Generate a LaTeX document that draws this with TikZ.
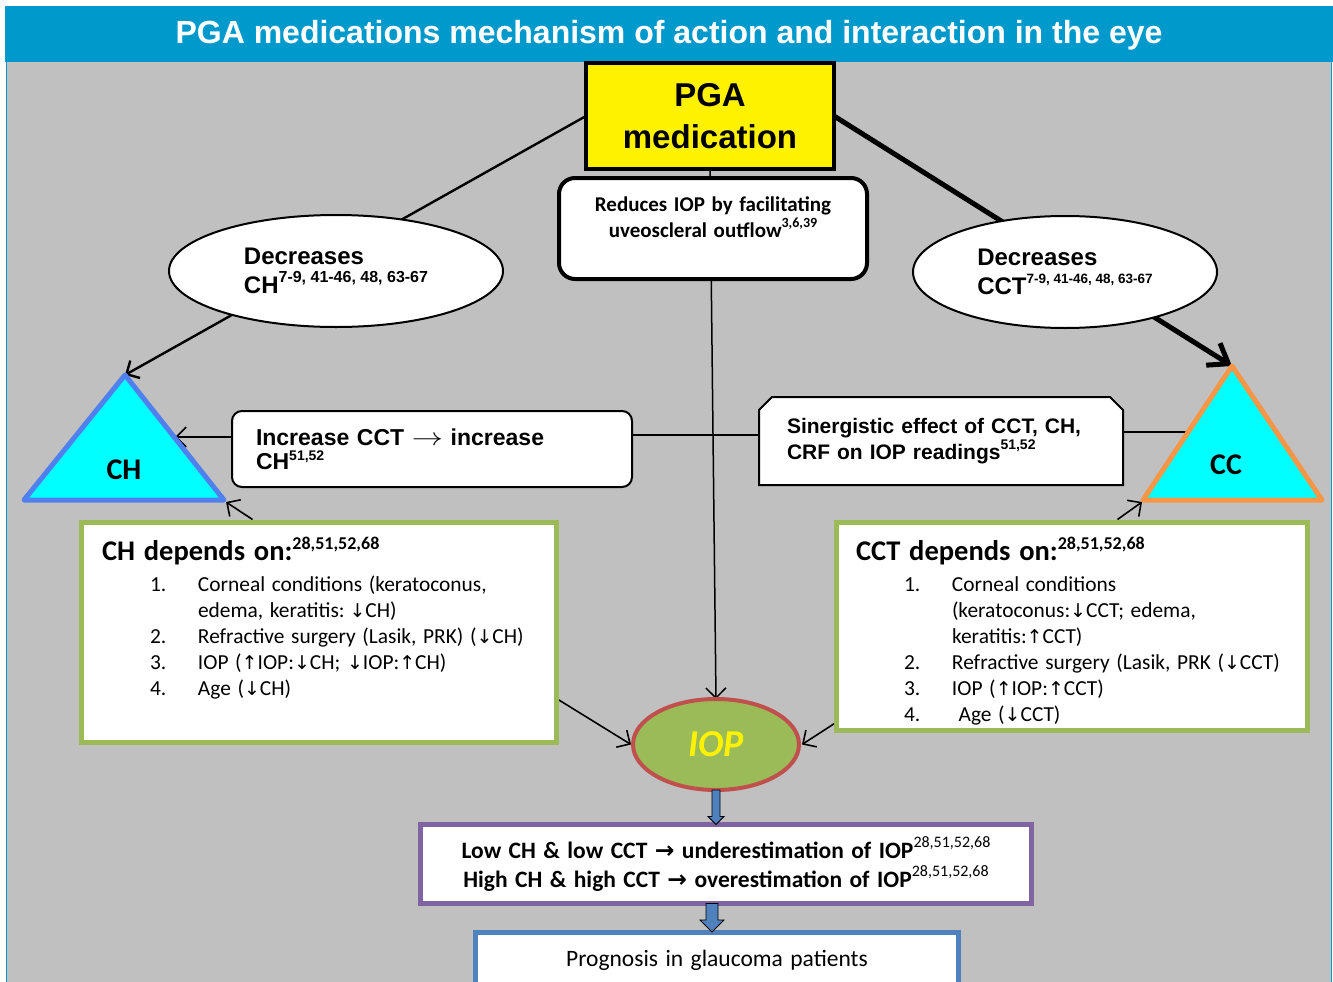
\documentclass[tikz,border=0pt]{standalone}
\usepackage{fontspec}
\setmainfont{Liberation Sans}
\newfontfamily\calfont[WordSpace=1.4]{Carlito}
\newfontfamily\arialf{Liberation Sans}
\newfontfamily\dejaf{DejaVu Sans}
\usetikzlibrary{arrows.meta,shapes.geometric,calc}
\pgfdeclarelayer{bgfill}\pgfdeclarelayer{conn}\pgfdeclarelayer{shp}
\pgfsetlayers{bgfill,conn,shp,main}
\definecolor{ttlblue}{HTML}{0099CC}
\definecolor{bggray}{HTML}{C0C0C0}
\definecolor{chblue}{HTML}{4F80EE}
\definecolor{ccorange}{HTML}{F79646}
\definecolor{grn}{HTML}{9BBB59}
\definecolor{iopred}{HTML}{C0504D}
\definecolor{purp}{HTML}{8064A2}
\definecolor{blu}{HTML}{4F81BD}
\definecolor{cyanf}{HTML}{00FFFF}
\newcommand\rsup[3]{\raisebox{#1}{\fontsize{#2}{#2}\selectfont #3}}
\newcommand\dnarr{{\dejaf\fontsize{19}{19}\selectfont ↓}}
\newcommand\uparr{{\dejaf\fontsize{19}{19}\selectfont ↑}}
\newcommand\thinarr{\scalebox{1.25}[1]{\fontsize{24}{23}\selectfont$\rightarrow$}}
\newcommand\wsp{\spaceskip=0.31em plus 0.1em minus 0.05em\relax}
\newcommand\litem[2]{\par\hangindent=96pt\hangafter=1\hspace*{48pt}\makebox[48pt][l]{#1}#2}
\begin{document}
\begin{tikzpicture}[x=1pt,y=-1pt,
  every node/.style={inner sep=0pt,outer sep=0pt},
  conn/.style={draw=black,line width=1.6pt},
  barb/.style={-{Straight Barb[length=10pt,width=20pt]}},
  bigbarb/.style={-{Straight Barb[length=18pt,width=26pt]}},
  depbox/.style={draw=grn,line width=5pt,fill=white,anchor=north west},
  deptxt/.style={anchor=north west,text width=440pt,align=left},
  blockarr/.style={draw=black,line width=0.8pt,fill=blu}]
\useasboundingbox (0,0) rectangle (1333,982);
\clip (0,0) rectangle (1333,982);
\begin{pgfonlayer}{bgfill}
\fill[white] (0,0) rectangle (1333,982);
\fill[ttlblue] (5,6) rectangle (1333,62);
\fill[bggray] (7,62) rectangle (1331,982);
\draw[ttlblue,line width=1pt] (6.5,62) -- (6.5,982);
\draw[ttlblue,line width=1pt] (1331,62) -- (1331,982);
\end{pgfonlayer}

% title
\node[text=white,font=\bfseries\fontsize{32}{36}\selectfont] (title) at (669,35) {PGA medications mechanism of action and interaction in the eye};

% PGA medication
\node[draw,line width=4pt,fill=yellow,minimum width=248pt,minimum height=106pt,align=center,font=\bfseries\fontsize{33}{42}\selectfont] (pga) at (710,116) {PGA\\medication};

% reduces box
\node[draw,line width=4pt,rounded corners=16pt,fill=white,minimum width=308pt,minimum height=101pt,align=center,text depth=22pt,font=\calfont\bfseries\fontsize{21}{26}\selectfont] (red) at (713,228.5) {Reduces IOP by facilitating\\uveoscleral outflow\rsup{0.5em}{14}{3,6,39}};

% ellipses
\node[ellipse,draw,line width=2pt,fill=white,minimum width=334pt,minimum height=112pt,align=left,font=\bfseries\fontsize{24}{29}\selectfont] (dch) at (336,271) {Decreases\\CH\rsup{0.45em}{16}{7-9, 41-46, 48, 63-67}};
\node[ellipse,draw,line width=2pt,fill=white,minimum width=304pt,minimum height=112pt,align=left,font=\bfseries\fontsize{24}{29}\selectfont] (dcc) at (1065,272) {Decreases\\CCT\rsup{0.45em}{13.5}{7-9, 41-46, 48, 63-67}};

% triangles
\coordinate (chTop) at (125,375);
\coordinate (chBL) at (24,500);
\coordinate (chBR) at (224,500);
\coordinate (chR) at (175,437);
\coordinate (ccTop) at (1232,366);
\coordinate (ccBL) at (1143,500);
\coordinate (ccBR) at (1322,500);
\coordinate (ccL) at (1187,432);
\draw[draw=chblue,fill=cyanf,line width=5pt,line join=round] (chTop) -- (chBR) -- (chBL) -- cycle;
\draw[draw=ccorange,fill=cyanf,line width=5pt,line join=round] (ccTop) -- (ccBR) -- (ccBL) -- cycle;
\node[font=\calfont\bfseries\fontsize{30}{30}\selectfont] (chlbl) at (124,470) {CH};
\node[font=\calfont\bfseries\fontsize{30}{30}\selectfont] (cclbl) at (1226,465) {CC};

% increase box
\node[draw,line width=2pt,rounded corners=10pt,fill=white,minimum width=400pt,minimum height=76pt,text width=352pt,align=left,font=\bfseries\fontsize{23}{24}\selectfont] (inc) at (432,449) {Increase CCT \thinarr{} increase\\CH\rsup{0.4em}{14}{51,52}};

% sinergistic box
\node[minimum width=364pt,minimum height=88pt,text width=308pt,align=left,font=\bfseries\fontsize{21}{26}\selectfont] (sin) at (941,441) {\makebox[308pt][s]{Sinergistic effect of CCT, CH,}\\CRF on IOP readings\rsup{0.45em}{14}{51,52}};
\begin{pgfonlayer}{shp}
\draw[line width=2pt,fill=white] (sin.south west) -- ($(sin.north west)+(0,13)$) -- ($(sin.north west)+(13,0)$) -- ($(sin.north east)+(-13,0)$) -- ($(sin.north east)+(0,13)$) -- (sin.south east) -- cycle;
\end{pgfonlayer}

% depends boxes
\node[depbox,minimum width=475pt,minimum height=220pt] (chdep) at (81.5,522.5) {};
\node[deptxt] (chdeptxt) at (102,537) {\parindent=0pt\parskip=0pt
{\calfont\bfseries\fontsize{28.5}{30}\selectfont\wsp CH depends on:\rsup{0.38em}{18}{28,51,52,68}}\par
\calfont\fontsize{21.4}{26}\selectfont\wsp\vspace{5pt}%
\litem{1.}{Corneal conditions (keratoconus,\newline edema, keratitis: \dnarr CH)}
\litem{2.}{Refractive surgery (Lasik, PRK) (\dnarr CH)}
\litem{3.}{IOP (\uparr IOP:\dnarr CH; \dnarr IOP:\uparr CH)}
\litem{4.}{Age (\dnarr CH)}\par};

\node[depbox,minimum width=471pt,minimum height=208pt] (cctdep) at (836.5,522.5) {};
\node[deptxt] (cctdeptxt) at (856,537) {\parindent=0pt\parskip=0pt
{\calfont\bfseries\fontsize{28.5}{30}\selectfont\wsp CCT depends on:\rsup{0.38em}{18}{28,51,52,68}}\par
\calfont\fontsize{21.4}{26}\selectfont\wsp\vspace{5pt}%
\litem{1.}{Corneal conditions\newline (keratoconus:\dnarr CCT; edema,\newline keratitis:\uparr CCT)}
\litem{2.}{Refractive surgery (Lasik, PRK (\dnarr CCT)}
\litem{3.}{IOP (\uparr IOP:\uparr CCT)}
\litem{4.}{\ Age (\dnarr CCT)}\par};

% IOP
\node[ellipse,draw=iopred,line width=4pt,fill=grn,minimum width=166pt,minimum height=91pt,text=yellow,font=\calfont\bfseries\itshape\fontsize{38}{38}\selectfont] (iop) at (716,744.5) {IOP};

% result box
\node[draw=purp,line width=5pt,fill=white,minimum width=611pt,minimum height=79pt,align=center,font=\calfont\bfseries\fontsize{23.5}{29}\selectfont] (res) at (726,864) {Low CH \& low CCT {\dejaf\bfseries →} underestimation of IOP\rsup{0.45em}{16}{\mdseries 28,51,52,68}\\High CH \& high CCT {\dejaf\bfseries →} overestimation of IOP\rsup{0.45em}{16}{\mdseries 28,51,52,68}};

% prognosis
\node[draw=blu,line width=5pt,fill=white,minimum width=483pt,minimum height=56pt,font=\calfont\fontsize{23.5}{23.5}\selectfont] (prog) at (717,960) {Prognosis in glaucoma patients};

% connectors
\begin{pgfonlayer}{conn}
\draw[conn,line width=2.4pt,barb] (pga.west) -- (chTop);
\draw[conn,line width=5pt,bigbarb] (pga.east) -- (ccTop);
\draw[conn,line width=1.5pt,barb] (pga.south) -- (iop.north);
\draw[conn,barb] (inc.west |- chR) -- (chR);
\coordinate (hl) at (0,435);
\draw[conn] (inc.east |- hl) -- (sin.west |- hl);
\draw[conn] (sin.east |- ccL) -- (ccL);
\draw[conn,barb] ($(chdep.north west)+(171,-3)$) -- ($(chBR)+(2,2)$);
\draw[conn,barb] ($(cctdep.north west)+(281,-3)$) -- ($(ccBL)+(-1,2)$);
\draw[conn,barb] ($(chdep.south east)!0.2!(chdep.north east)$) -- ($(iop.west)+(-2,0)$);
\draw[conn,barb] ($(cctdep.south west)!0.04!(cctdep.north west)$) -- ($(iop.east)+(3,0)$);
\end{pgfonlayer}

% block arrows
\coordinate (a1s) at (iop.south);
\coordinate (a1e) at (res.north -| iop.south);
\draw[blockarr] ($(a1s)+(-4,0)$) -- ($(a1s)+(4,0)$) -- ($(a1e)+(4,-8)$) -- ($(a1e)+(8,-8)$) -- (a1e) -- ($(a1e)+(-8,-8)$) -- ($(a1e)+(-4,-8)$) -- cycle;
\coordinate (a2s) at ($(res.south)+(-14,0)$);
\coordinate (a2e) at ($(prog.north)+(-5,0)$);
\draw[blockarr] ($(a2s)+(-6,0)$) -- ($(a2s)+(6,0)$) -- ($(a2e)+(6,-12)$) -- ($(a2e)+(12,-12)$) -- (a2e) -- ($(a2e)+(-12,-12)$) -- ($(a2e)+(-6,-12)$) -- cycle;
\end{tikzpicture}
\end{document}
